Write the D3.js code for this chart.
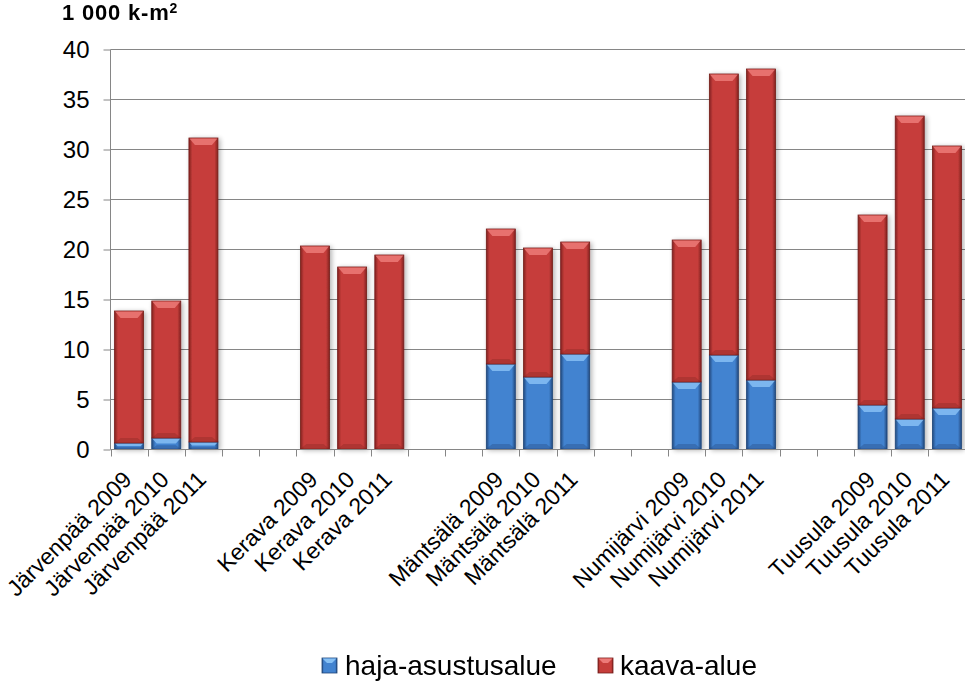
<!DOCTYPE html>
<html><head><meta charset="utf-8">
<script src="https://cdn.jsdelivr.net/npm/d3@7"></script>
<style>body{margin:0;background:#fff}svg{display:block;font-family:"Liberation Sans",Arial,sans-serif}</style>
</head><body>
<script>
const categories = ["Järvenpää 2009","Järvenpää 2010","Järvenpää 2011","","",
  "Kerava 2009","Kerava 2010","Kerava 2011","","",
  "Mäntsälä 2009","Mäntsälä 2010","Mäntsälä 2011","","",
  "Numijärvi 2009","Numijärvi 2010","Numijärvi 2011","","",
  "Tuusula 2009","Tuusula 2010","Tuusula 2011"];
const hajaAsustusalue = [0.6,1.1,0.7,null,null, 0,0,0,null,null, 8.5,7.2,9.5,null,null, 6.7,9.4,6.9,null,null, 4.4,3.0,4.1];
const kaavaAlue      = [13.2,13.7,30.4,null,null, 20.3,18.2,19.4,null,null, 13.5,12.9,11.2,null,null, 14.2,28.1,31.1,null,null, 19.0,30.3,26.2];
const seriesNames = ["haja-asustusalue","kaava-alue"];
const yTicks = [0,5,10,15,20,25,30,35,40];
const yTitle = "1 000 k-m";

const W=965,H=682;
const svg=d3.select("body").append("svg").attr("width",W).attr("height",H);
const defs=svg.append("defs");
const pal={
  blue:{edge:"#23497e",mid:"#4283d0",light:"#86c0f4",stroke:"#1f4578"},
  red:{edge:"#832220",mid:"#c63e3b",light:"#ec7a78",stroke:"#741c1a"}
};
Object.entries(pal).forEach(([k,c])=>{
  const g=defs.append("linearGradient").attr("id","g-"+k).attr("x1",0).attr("x2",1).attr("y1",0).attr("y2",0);
  [[0,c.edge],[0.12,c.mid],[0.5,c.mid],[0.88,c.mid],[1,c.edge]].forEach(s=>g.append("stop").attr("offset",s[0]).attr("stop-color",s[1]));
});
const f=defs.append("filter").attr("id","sh").attr("x","-20%").attr("y","-5%").attr("width","150%").attr("height","115%");
f.append("feGaussianBlur").attr("in","SourceAlpha").attr("stdDeviation",2.5);
f.append("feOffset").attr("dx",2).attr("dy",1).attr("result","b");
f.append("feComponentTransfer").append("feFuncA").attr("type","linear").attr("slope",0.3);
const m=f.append("feMerge");m.append("feMergeNode");m.append("feMergeNode").attr("in","SourceGraphic");

const keys=categories.map((c,i)=>"k"+i);
const x=d3.scaleBand().domain(keys).range([110.5,965.5]).paddingInner(0.22).paddingOuter(0.11);
const xSlot=d3.scaleBand().domain(keys).range([110.5,965.5]).padding(0);
const y=d3.scaleLinear().domain([0,40]).range([449,49]);

// gridlines
svg.append("g").selectAll("line").data(yTicks.filter(t=>t>0)).join("line")
  .attr("x1",110.5).attr("x2",965).attr("y1",d=>Math.round(y(d))+0.5).attr("y2",d=>Math.round(y(d))+0.5)
  .attr("stroke","#868686").attr("stroke-width",1);

// y axis
const ya=svg.append("g").attr("transform","translate(110.5,0.5)")
  .call(d3.axisLeft(y).tickValues(yTicks).tickSize(7).tickPadding(14).tickFormat(d3.format("d")));
ya.select(".domain").attr("stroke","#868686").attr("d","M0,"+y(40)+"V"+y(0));
ya.selectAll(".tick line").attr("stroke","#868686");
ya.selectAll("text").attr("font-size",24).attr("fill","#000").attr("font-family","Liberation Sans, Arial, sans-serif").attr("dy","0.34em");

// data
const rows=keys.map((k,i)=>({key:k,haja:hajaAsustusalue[i],kaava:kaavaAlue[i]})).filter(r=>r.haja!==null);
const stack=d3.stack().keys(["haja","kaava"])(rows);
const colors=["blue","red"];
const bars=svg.append("g").attr("filter","url(#sh)");
stack.forEach((s,si)=>{
  const c=pal[colors[si]];
  s.forEach(d=>{
    const h=y(d[0])-y(d[1]);
    if(h<=0.01) return;
    const x0=x(d.data.key),bw=x.bandwidth(),top=y(d[1]),bot=y(d[0]);
    const g=bars.append("g");
    g.append("rect").attr("x",x0).attr("y",top).attr("width",bw).attr("height",h)
      .attr("fill","url(#g-"+colors[si]+")").attr("stroke",c.stroke).attr("stroke-width",0.8);
    const bh=Math.min(7,h/2), inset=Math.min(6,bh*0.9);
    g.append("path").attr("d",`M${x0+0.5},${top+0.5}L${x0+bw-0.5},${top+0.5}L${x0+bw-inset},${top+bh}L${x0+inset},${top+bh}Z`)
      .attr("fill",c.light).attr("opacity",0.85);
    const bb=Math.min(5,h/3);
    g.append("path").attr("d",`M${x0+0.5},${bot-0.5}L${x0+bw-0.5},${bot-0.5}L${x0+bw-inset},${bot-bb}L${x0+inset},${bot-bb}Z`)
      .attr("fill",c.edge).attr("opacity",0.35);
  });
});

// x axis
const xa=svg.append("g").attr("transform","translate(0,449.5)");
xa.append("line").attr("x1",110.5).attr("x2",965).attr("stroke","#868686");
const bounds=keys.map(k=>xSlot(k)).concat([xSlot(keys[keys.length-1])+xSlot.bandwidth()]);
xa.selectAll(".tk").data(bounds).join("line").attr("class","tk")
  .attr("x1",d=>Math.round(d)+0.5).attr("x2",d=>Math.round(d)+0.5).attr("y1",0).attr("y2",7).attr("stroke","#868686");
svg.append("g").selectAll("text").data(keys.map((k,i)=>({k,label:categories[i]})).filter(d=>d.label)).join("text")
  .attr("transform",d=>`translate(${x(d.k)+x.bandwidth()/2+4},481) rotate(-45)`)
  .attr("text-anchor","end").attr("font-size",23).attr("fill","#000").text(d=>d.label);

// title
const t=svg.append("text").attr("x",62).attr("y",20).attr("font-size",22).attr("font-weight","bold").attr("letter-spacing",0.8);
t.append("tspan").text(yTitle);
t.append("tspan").attr("dy",-7).attr("font-size",14).text("2");

// legend
const lg=svg.append("g");
const leg=[{n:seriesNames[0],c:"blue",x:322,tx:345},{n:seriesNames[1],c:"red",x:598,tx:620}];
leg.forEach(l=>{
  const c=pal[l.c];
  lg.append("rect").attr("x",l.x).attr("y",658).attr("width",15).attr("height",15).attr("fill","url(#g-"+l.c+")").attr("stroke",c.stroke).attr("stroke-width",0.8);
  lg.append("path").attr("d",`M${l.x+0.5},658.5L${l.x+14.5},658.5L${l.x+10},663L${l.x+5},663Z`).attr("fill",c.light);
  lg.append("text").attr("x",l.tx).attr("y",675).attr("font-size",28).attr("fill","#000").text(l.n);
});
</script>
</body></html>
